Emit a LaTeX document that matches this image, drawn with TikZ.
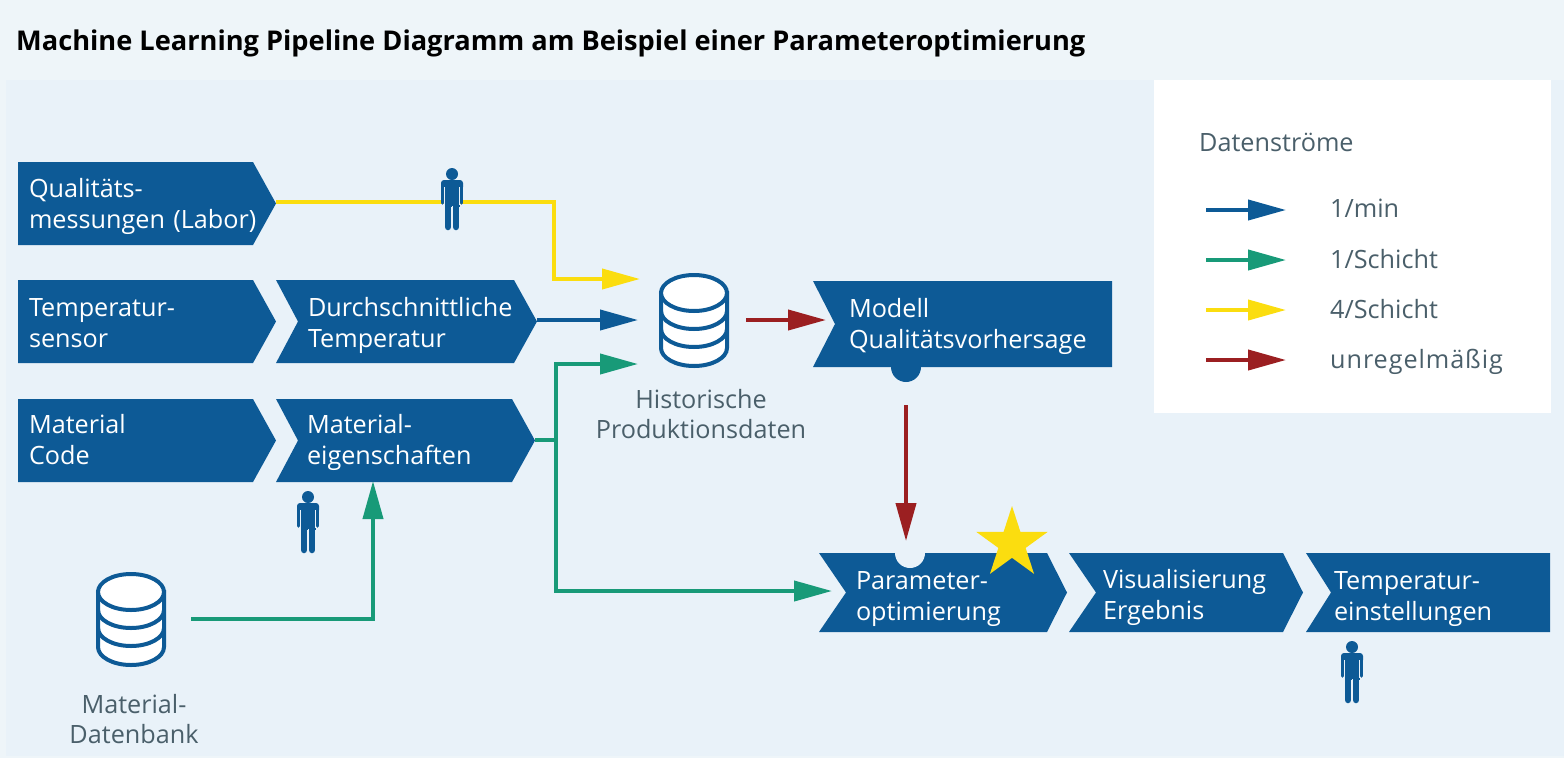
\documentclass[tikz,border=0pt]{standalone}
\usepackage{fontspec}
\setmainfont{Open Sans}
\usetikzlibrary{arrows.meta,shapes.geometric}
\definecolor{outerbg}{HTML}{EEF5F9}
\definecolor{panelbg}{HTML}{E9F2F9}
\definecolor{procblue}{HTML}{0D5A96}
\definecolor{flowgreen}{HTML}{189A78}
\definecolor{flowyellow}{HTML}{FBDD0F}
\definecolor{flowred}{HTML}{9B1F21}
\definecolor{labelgray}{HTML}{4A5F6A}
\tikzset{
	chevbox/.style 2 args={
			inner sep=0pt, outer sep=0pt, anchor=north west, text=white, align=left,
			font=\fontsize{25.2}{30.5}\selectfont, text height=0pt,
			execute at begin node={\hyphenpenalty=10000\exhyphenpenalty=10000},
			path picture={
					\fill[procblue] (path picture bounding box.north west)
					-- ([xshift=-#2]path picture bounding box.north east)
					-- (path picture bounding box.east)
					-- ([xshift=-#2]path picture bounding box.south east)
					-- (path picture bounding box.south west)
					-- ([xshift=#1]path picture bounding box.west) -- cycle;
				}
		},
	flowline/.style={line width=4pt, draw=#1, -{Triangle[length=38pt,width=20pt,fill=#1]}},
	branchline/.style={line width=4pt, draw=#1},
	graylabel/.style={text=labelgray, align=center, font=\fontsize{25.2}{30}\selectfont, inner sep=0pt},
	legendlabel/.style={text=labelgray, anchor=west, font=\fontsize{25.2}{30}\selectfont, inner sep=0pt, text height=18pt, text depth=6pt},
	database/.pic={
			\node[inner sep=0pt, minimum width=70pt, minimum height=96pt] (-box) at (0,27) {};
			\begin{scope}[line width=4pt, draw=procblue, fill=white]
				\filldraw (-33,0) -- (-33,55) arc[start angle=180, end angle=0, x radius=33, y radius=18] -- (33,0) -- cycle;
				\draw (-33,36) arc[start angle=180, end angle=0, x radius=33, y radius=18];
				\draw (-33,18) arc[start angle=180, end angle=0, x radius=33, y radius=18];
				\filldraw (0,0) ellipse[x radius=33, y radius=18];
			\end{scope}
		},
	person/.pic={
			\fill[procblue] (0,0) circle[radius=6];
			\fill[procblue, rounded corners=3pt] (-11,6) rectangle (11,16);
			\fill[procblue] (-7.5,8) rectangle (7.5,33);
			\draw[procblue, line width=3.5pt, line cap=round] (-9.3,10) -- (-9.3,29);
			\draw[procblue, line width=3.5pt, line cap=round] (9.3,10) -- (9.3,29);
			\draw[procblue, line width=6.5pt, line cap=round] (-4,30) -- (-4,53);
			\draw[procblue, line width=6.5pt, line cap=round] (4,30) -- (4,53);
			\draw[panelbg, line width=0.8pt] (-7.6,13) -- (-7.6,31);
			\draw[panelbg, line width=0.8pt] (7.6,13) -- (7.6,31);
			\draw[panelbg, line width=0.8pt] (0,32) -- (0,56);
		}
}
\begin{document}
\begin{tikzpicture}[x=1pt,y=-1pt]
	\useasboundingbox (0,0) rectangle (1564,758);
	\fill[outerbg] (0,0) rectangle (1564,758);
	\fill[panelbg] (6,80) rectangle (1564,756);
	\fill[white] (1154,80) rectangle (1551,413);
	\node[anchor=west, inner sep=0pt, font=\fontsize{27.2}{30}\selectfont\bfseries] (title) at (16,43) {Machine Learning Pipeline Diagramm am Beispiel einer Parameteroptimierung};

	% process boxes
	\node[chevbox={0pt}{23pt}, minimum width=258pt, minimum height=83pt, text width=236pt, text depth=12pt] (qual) at (18,162) {Qualitäts-\\messungen (Labor)};
	\node[chevbox={0pt}{23pt}, minimum width=258pt, minimum height=83pt, text width=236pt, text depth=10pt] (sensor) at (18,280) {Temperatur-\\sensor};
	\node[chevbox={0pt}{23pt}, minimum width=258pt, minimum height=83pt, text width=236pt, text depth=14pt] (code) at (18,399) {Material\\Code};
	\node[chevbox={22pt}{23pt}, minimum width=261pt, minimum height=83pt, text width=197pt, text depth=10pt] (avg) at (276,280) {Durchschnittliche\\Temperatur};
	\node[chevbox={22pt}{23pt}, minimum width=259pt, minimum height=83pt, text width=197pt, text depth=14pt] (props) at (276,399) {Material-\\eigenschaften};
	\node[chevbox={22pt}{0pt}, minimum width=299pt, minimum height=86pt, text width=227pt, text depth=13pt] (model) at (813,281) {Modell\\Qualitätsvorhersage};
	\node[chevbox={27pt}{20pt}, minimum width=248pt, minimum height=79pt, text width=174pt, text depth=6pt] (optim) at (819,553) {Parameter-\\optimierung};
	\node[chevbox={27pt}{20pt}, minimum width=234pt, minimum height=79pt, text width=166pt, text depth=8pt] (vis) at (1069,553) {Visualisierung\\Ergebnis};
	\node[chevbox={25pt}{0pt}, minimum width=244pt, minimum height=79pt, text width=188pt, text depth=6pt] (settings) at (1306,553) {Temperatur-\\einstellungen};

	% bump and notch
	\fill[procblue] (906,367) circle[radius=15];
	\fill[panelbg] (910,553) circle[radius=15];
	\node[star, star points=5, star point ratio=2.618, fill=flowyellow, inner sep=0pt, minimum size=75pt] (best) at (1012,543.5) {};

	% data stores
	\pic (hist) at (694,293) {database};
	\pic (matdb) at (131,592) {database};
	\node[graylabel] (histlabel) at (701,414) {Historische\\Produktionsdaten};
	\node[graylabel] (matlabel) at (134,719) {Material-\\Datenbank};

	% free ends
	\coordinate (yellowbend) at (554,202);
	\coordinate (yellowend) at (640,279);
	\coordinate (blueend) at (638,320);
	\coordinate (greenend) at (638,364);
	\coordinate (redstart) at (746,320);
	\coordinate (redend) at (826,320);
	\coordinate (split) at (556,440);
	\coordinate (optimend) at (832,591);
	\coordinate (predstart) at (906,405);
	\coordinate (predend) at (906,541);
	\coordinate (dbstart) at (191,619);
	\coordinate (propsend) at (373,481);

	% connectors
	\draw[flowline=flowyellow] (qual.east |- yellowbend) -- (yellowbend) |- (yellowend);
	\draw[flowline=procblue] (avg.east |- blueend) -- (blueend);
	\draw[branchline=flowgreen] (props.east |- split) -- (split);
	\draw[flowline=flowgreen] (split) |- (greenend);
	\draw[flowline=flowgreen] (split) |- (optimend);
	\draw[flowline=flowred] (redstart) -- (redend);
	\draw[flowline=flowred] (predstart) -- (predend);
	\draw[flowline=flowgreen] (dbstart) -| (propsend);

	% persons
	\pic at (452,174) {person};
	\pic at (308,497) {person};
	\pic at (1352,647) {person};

	% legend
	\node[legendlabel] (legendtitle) at (1199,145) {Datenströme};
	\node[legendlabel] (leg1) at (1330,211) {1/min};
	\node[legendlabel] (leg2) at (1330,262) {1/Schicht};
	\node[legendlabel] (leg3) at (1330,312) {4/Schicht};
	\node[legendlabel] (leg4) at (1330,362) {\addfontfeature{LetterSpace=3.7}unregelmäßig};
	\foreach \yy/\col/\nm in {210/procblue/a,260/flowgreen/b,310/flowyellow/c,360/flowred/d}{
			\coordinate (key\nm) at (1206,\yy);
			\coordinate (keyend\nm) at (1286,\yy);
			\draw[flowline=\col] (key\nm) -- (keyend\nm);
		}
\end{tikzpicture}
\end{document}
